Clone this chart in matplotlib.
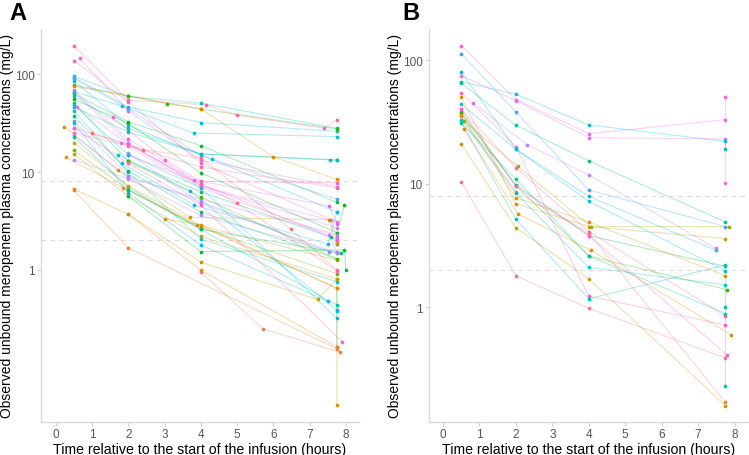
import numpy as np
import matplotlib
matplotlib.use("Agg")
import matplotlib.pyplot as plt

plt.rcParams["font.family"] = ["Liberation Sans", "DejaVu Sans"]

# ---- panel A: one entry per patient (time in h, unbound conc in mg/L, colour hue) ----
a_times = [
    [0.5, 2, 4, 7.75], [0.66, 2, 4, 7.75], [0.5, 2, 4, 7.75], [0.5, 2, 4, 7.75],
    [0.5, 2, 4, 7.75], [0.5, 2, 4.3, 7.75], [0.5, 2, 3.06, 4, 7.75], [0.5, 4, 6.0, 7.75],
    [0.5, 2, 3.82, 7.53, 7.75], [0.5, 2, 4, 7.6, 7.75], [0.5, 2, 4, 7.75], [0.5, 2, 4, 7.75],
    [0.5, 1.84, 3.8, 7.75], [0.5, 2, 4, 7.96, 7.75], [0.5, 2, 4, 7.6, 7.75],
    [0.5, 2, 4.15, 5.0, 7.4, 7.75], [0.5, 2, 4, 7.56, 7.75], [0.6, 2, 4, 7.75],
    [0.5, 2, 4, 7.75, 7.75, 7.75], [0.5, 2, 4, 7.75], [0.5, 2, 4, 7.53], [0.5, 2, 4, 7.5],
    [0.23, 1.73, 3.7, 7.53, 7.75], [0.5, 2, 4, 7.75], [0.5, 2, 4, 7.75], [0.5, 2, 4, 7.75],
    [0.5, 2, 4, 7.75], [0.5, 2, 4, 7.75], [0.5, 2, 4, 7.75], [0.5, 2, 4, 7.75],
    [0.29, 1.86, 3.9, 7.75], [0.5, 2, 4, 7.75], [0.5, 2, 4, 7.75], [0.5, 2, 7.75],
    [1.0, 2.4, 4, 6.48, 7.75], [1.57, 3.0, 4, 7.75], [1.73, 3.7, 7.75], [1.82, 3.82, 7.5, 7.75],
    [1.8, 4, 7.53, 7.75], [2, 4, 7.75], [2, 4, 5.0, 7.75], [2, 4, 7.75],
    [2, 4, 7.86], [2, 4, 7.96, 8.0], [2, 4, 7.22, 7.75], [4, 5.72, 7.84],
    [3.0, 4, 7.75, 7.75], [0.5, 2, 4, 7.9], [0.5, 2, 4, 7.75],
]
a_concs = [
    [95, 59, 50.6, 28], [145, 42, 13.2, 7.1], [137, 52, 12.3, 3.1], [92, 46, 32, 26],
    [90, 44, 14.7, 5.3], [85, 29.7, 13.5, 3.9], [77, 60, 50, 44, 27.5], [75, 44, 14.3, 8.4],
    [68, 21.7, 8.3, 4.5, 2.95], [65, 20, 7.2, 3.2, 2.17], [62.5, 32.6, 18.6, 4.9], [59, 27.6, 15.3, 13.2],
    [66, 47, 25, 23], [55, 31.4, 9.8, 4.6, 2.4], [51, 12.8, 6.3, 2.15, 1.83],
    [194, 54, 48.5, 38, 28, 34], [46, 25.6, 15.3, 13.4, 13.2], [46, 19.2, 7.2, 2.7],
    [42, 9.9, 2.07, 0.76, 0.38, 0.164], [37, 10.3, 3.9, 1.3], [33, 9.2, 5.0, 1.53], [32, 6.1, 1.8, 0.48],
    [29, 10.4, 3.45, 3.26, 1.89], [28, 19.2, 7.6, 2.04], [25, 18.6, 11.2, 6.9], [23.7, 8.8, 5.3, 2.3],
    [22.6, 7.0, 2.6, 0.44], [20, 7.2, 2.83, 1.26], [16.6, 6.6, 2.7, 0.92], [15.3, 5.65, 2.2, 0.81],
    [14.1, 6.9, 2.9, 0.65], [13.4, 8.5, 3.6, 1.49], [6.7, 3.7, 1.0, 0.164], [6.5, 1.68, 0.157],
    [25, 16.9, 13.9, 2.6, 1.0], [36, 13.4, 8.0, 7.8], [15, 6.4, 0.39], [12.3, 4.6, 1.84, 3.9],
    [20, 6.9, 2.3, 1.53], [15.6, 4.8, 1.49], [15, 7.6, 4.8, 0.98], [12.8, 5.55, 1.3],
    [6.6, 2.6, 1.49], [5.65, 1.54, 1.6, 1.0], [3.7, 1.2, 0.5, 0.81], [0.95, 0.25, 0.145],
    [3.3, 2.9, 0.65, 0.042], [28, 12.3, 4.6, 0.186], [48, 15, 6.9, 0.32],
]
a_hues = [
    185, 330, 345, 225, 255, 210, 125, 45,
    310, 300, 140, 180,
    195, 130, 150,
    350, 175, 285,
    190, 145, 260, 230,
    60, 335, 355, 280,
    170, 65, 110, 80,
    35, 270, 40, 30,
    15, 340, 215, 220,
    290, 275, 350, 120,
    150, 135, 70, 20,
    50, 345, 200,
]

# ---- panel B ----
b_times = [
    [0.5, 2, 4, 7.75, 7.75], [0.5, 2, 4, 7.75, 7.75], [0.5, 2, 4, 7.75, 7.75], [0.5, 2, 4, 7.75],
    [0.5, 2, 4, 7.49], [0.5, 2, 4, 7.75], [0.83, 2.31, 4, 7.49], [0.5, 2, 4, 7.75],
    [0.5, 2, 4, 7.75], [0.5, 2, 4, 7.75], [0.5, 2, 4, 7.75], [0.5, 2, 4, 7.75],
    [0.5, 2, 4, 7.8], [0.5, 2, 4, 7.75], [0.5, 2, 4, 7.75],
    [0.5, 2, 4, 7.75, 7.75, 7.75], [0.5, 2, 4, 7.75], [0.58, 2.05, 4.06, 7.86],
    [0.58, 2.05, 4.06, 7.9], [0.5, 2, 4, 7.75], [0.5, 2, 4, 7.75], [0.5, 2, 4, 7.75],
    [0.5, 2, 4, 7.8],
]
b_concs = [
    [131, 48, 25.4, 33, 50], [75, 47, 23.6, 23, 10.2], [67, 53, 29.9, 22, 19], [113, 38, 8.9, 4.5],
    [80, 19, 7.9, 2.9], [65, 29.7, 15.3, 4.9], [45, 20.7, 11.8, 3.0], [54.5, 20, 1.23, 0.72],
    [44, 19, 7.2, 1.97], [50, 6.9, 4.5, 3.6], [40, 13.5, 4.1, 0.85], [38, 9.8, 3.8, 2.15],
    [37, 9.6, 2.6, 1.39], [35, 8.6, 4.0, 0.17], [10.4, 1.8, 0.98, 0.39],
    [31.4, 5.15, 1.17, 2.2, 1.0, 0.23], [31, 10.9, 2.6, 0.89], [32, 13.8, 4.5, 4.5],
    [27.9, 5.7, 2.9, 0.6], [21, 4.4, 1.7, 0.16], [36, 7.7, 4.9, 1.8], [33, 8.4, 2.1, 1.52],
    [40, 9.5, 3.8, 0.41],
]
b_hues = [
    315, 305, 220, 250,
    230, 160, 280, 340,
    215, 60, 350, 135,
    125, 15, 10,
    185, 175, 90,
    40, 65, 45, 200,
    320,
]


def hue_colour(h, c=100.0, l=65.0):
    # ggplot2 hue palette: polar Luv -> sRGB
    hr = np.deg2rad(h)
    u, v = c * np.cos(hr), c * np.sin(hr)
    y = ((l + 16) / 116) ** 3
    un, vn = 0.19783983, 0.46833630
    up = u / (13 * l) + un
    vp = v / (13 * l) + vn
    x = y * 9 * up / (4 * vp)
    z = y * (12 - 3 * up - 20 * vp) / (4 * vp)
    m = np.array([[3.2404542, -1.5371385, -0.4985314],
                  [-0.9692660, 1.8760108, 0.0415560],
                  [0.0556434, -0.2040259, 1.0572252]])
    rgb = m @ np.array([x, y, z])
    rgb = np.where(rgb <= 0.0031308, 12.92 * rgb, 1.055 * np.clip(rgb, 0, None) ** (1 / 2.4) - 0.055)
    return tuple(np.clip(rgb, 0, 1))


def draw_panel(ax, times, concs, hues, xlim, ylim):
    for t, c, h in zip(times, concs, hues):
        col = hue_colour(h)
        order = np.argsort(t, kind="stable")
        ts = np.array(t)[order]
        cs = np.array(c)[order]
        ax.plot(ts, cs, color=col, lw=0.8, alpha=0.3, zorder=2)
        ax.scatter(ts, cs, color=col, s=7, lw=0, zorder=3)
    for ref in (2, 8):
        ax.axhline(ref, color="#dcdcdc", lw=0.8, ls=(0, (4, 4)), zorder=1)
    ax.set_yscale("log")
    ax.set_xlim(*xlim)
    ax.set_ylim(*ylim)
    ax.set_yticks([1, 10, 100])
    ax.set_yticklabels(["1", "10", "100"])
    ax.yaxis.set_minor_locator(matplotlib.ticker.NullLocator())
    ax.set_xticks(range(0, 9))
    for side in ("top", "right"):
        ax.spines[side].set_visible(False)
    for side in ("left", "bottom"):
        ax.spines[side].set_color("#d9d9d9")
        ax.spines[side].set_linewidth(1.0)
    ax.tick_params(colors="#d0d0d0", labelcolor="#555555", labelsize=8.5, length=3, width=0.8, pad=1.5)
    ax.set_xlabel("Time relative to the start of the infusion (hours)", fontsize=10.2)
    ax.set_ylabel("Observed unbound meropenem plasma concentrations (mg/L)", fontsize=10)
    ax.xaxis.set_label_coords(0.5, -0.05)
    ax.yaxis.set_label_coords(-0.085, 0.5)


fig = plt.figure(figsize=(7.49, 4.56), dpi=100)
ax_a = fig.add_axes([41 / 749, 33 / 456, 318 / 749, 393 / 456])
ax_b = fig.add_axes([429 / 749, 33 / 456, 319 / 749, 393 / 456])

draw_panel(ax_a, a_times, a_concs, a_hues, (-0.405, 8.36), (0.0281, 288))
draw_panel(ax_b, b_times, b_concs, b_hues, (-0.385, 8.37), (0.118, 178.6))

fig.text(9 / 749, 1 - 13 / 456, "A", fontsize=17, fontweight="bold", va="center", ha="left")
fig.text(402 / 749, 1 - 13 / 456, "B", fontsize=17, fontweight="bold", va="center", ha="left")

fig.savefig("out.png", dpi=100)
plt.close(fig)
